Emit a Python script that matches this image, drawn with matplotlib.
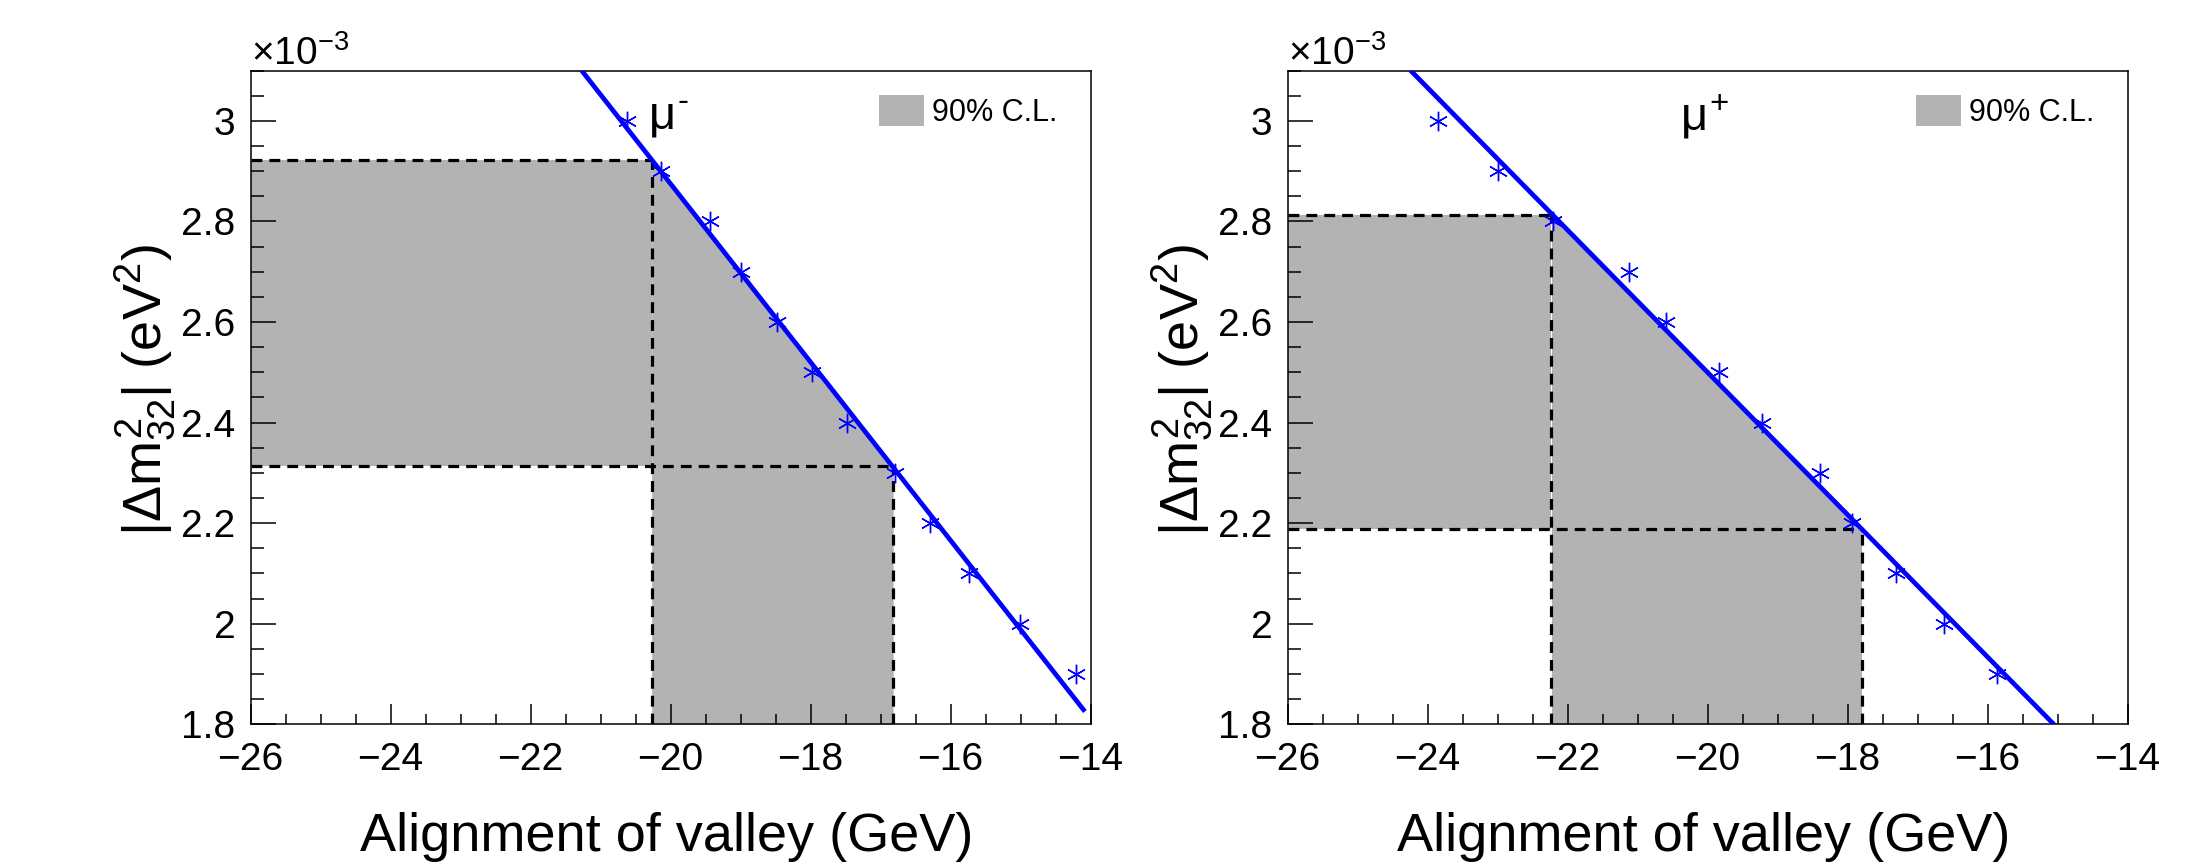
import matplotlib
matplotlib.use('Agg')
import matplotlib.pyplot as plt
import numpy as np
from matplotlib.patches import Patch
from matplotlib.ticker import MultipleLocator, FuncFormatter

plt.rcParams['font.family'] = ['Liberation Sans', 'DejaVu Sans']
plt.rcParams['mathtext.fontset'] = 'custom'
plt.rcParams['mathtext.rm'] = 'Liberation Sans'
plt.rcParams['mathtext.it'] = 'Liberation Sans'
plt.rcParams['mathtext.bf'] = 'Liberation Sans:bold'
plt.rcParams['axes.unicode_minus'] = True

# ---------------- data (|dm^2_32| in units of 1e-3 eV^2) ----------------
dm2_minus = [3.0, 2.9, 2.8, 2.7, 2.6, 2.5, 2.4, 2.3, 2.2, 2.1, 2.0, 1.9]
valley_minus = [-20.62, -20.14, -19.43, -19.00, -18.48, -17.98, -17.48,
                -16.80, -16.29, -15.73, -15.01, -14.21]
dm2_plus = [3.0, 2.9, 2.8, 2.7, 2.6, 2.5, 2.4, 2.3, 2.2, 2.1, 2.0, 1.9]
valley_plus = [-23.85, -22.99, -22.21, -21.12, -20.59, -19.84, -19.22,
               -18.40, -17.93, -17.31, -16.62, -15.86]

# linear fits: (slope, intercept)
fit_minus = (-0.1773, -0.671)
fit_plus = (-0.1415, -0.330)
fit_range_minus = (-21.5, -14.08)
fit_range_plus = (-24.5, -15.0)

# 90% C.L. intervals
cl_valley_minus = (-20.27, -16.82)
cl_dm2_minus = (2.314, 2.922)
cl_valley_plus = (-22.23, -17.80)
cl_dm2_plus = (2.189, 2.813)

panel_labels = [r'$\mu^{\text{-}}$', r'$\mu^{+}$']
legend_label = '90% C.L.'
xlabel = 'Alignment of valley (GeV)'
ylabel = r'$|\Delta m^{2}_{32}|$ (eV$^{2}$)'
xlim = (-26, -14)
ylim = (1.8, 3.1)

# ---------------- figure ----------------
fig = plt.figure(figsize=(22.12, 8.67), dpi=100)
ax_pos = [[0.1133, 0.1646, 0.3797, 0.7539],
          [0.5821, 0.1646, 0.3797, 0.7539]]

panels = [
    (valley_minus, dm2_minus, fit_minus, fit_range_minus, cl_valley_minus, cl_dm2_minus, panel_labels[0], (0.473, 0.912)),
    (valley_plus, dm2_plus, fit_plus, fit_range_plus, cl_valley_plus, cl_dm2_plus, panel_labels[1], (0.4676, 0.909)),
]

grey = '#b3b3b3'
blue = '#0000ff'

for pos, (vx, vy, fit, frange, clx, cly, plabel, lpos) in zip(ax_pos, panels):
    ax = fig.add_axes(pos)
    ax.set_xlim(*xlim)
    ax.set_ylim(*ylim)

    slope, icpt = fit
    # shaded 90% C.L. region
    ax.fill_between([xlim[0], clx[0]], cly[0], cly[1], color=grey, lw=0, zorder=1)
    xs = np.linspace(clx[0], clx[1], 200)
    ax.fill_between(xs, ylim[0], icpt + slope * xs, color=grey, lw=0, zorder=1)

    # dashed boundaries
    dkw = dict(color='black', lw=2.3, dashes=(3.4, 2.2), zorder=2)
    ax.plot([xlim[0], clx[0]], [cly[1], cly[1]], **dkw)
    ax.plot([clx[0], clx[0]], [ylim[0], cly[1]], **dkw)
    ax.plot([xlim[0], clx[1]], [cly[0], cly[0]], **dkw)
    ax.plot([clx[1], clx[1]], [ylim[0], cly[0]], **dkw)

    # fit line
    fx = np.array(frange)
    ax.plot(fx, icpt + slope * fx, color=blue, lw=3.4, zorder=3, solid_capstyle='butt')

    # data points (asterisk markers)
    ax.plot(vx, vy, linestyle='none', marker=(6, 2, 0), markersize=14,
            markeredgewidth=1.0, color=blue, zorder=4)

    # ticks
    ax.xaxis.set_major_locator(MultipleLocator(2))
    ax.xaxis.set_minor_locator(MultipleLocator(0.5))
    ax.yaxis.set_major_locator(MultipleLocator(0.2))
    ax.yaxis.set_minor_locator(MultipleLocator(0.05))
    ax.yaxis.set_major_formatter(FuncFormatter(lambda v, p: ('%g' % round(v, 3)).replace('-', '\u2212')))
    ax.tick_params(axis='both', which='both', direction='in', top=False, right=False, width=1.1)
    ax.tick_params(axis='x', which='major', length=14.4, pad=12.5, labelsize=28)
    ax.tick_params(axis='x', which='minor', length=7.2)
    ax.tick_params(axis='y', which='major', length=18, pad=11, labelsize=28)
    ax.tick_params(axis='y', which='minor', length=9)
    for sp in ax.spines.values():
        sp.set_linewidth(1.1)

    # labels
    ax.set_xlabel(xlabel, fontsize=39, va='baseline')
    ax.xaxis.set_label_coords(0.495, -0.194)
    ax.set_ylabel(ylabel, fontsize=39, va='center', ha='center')
    ax.yaxis.set_label_coords(-0.125, 0.512)

    ax.text(0.0, 1.0088, r'$\times$10$^{-3}$', transform=ax.transAxes,
            fontsize=28, ha='left', va='baseline')
    ax.text(lpos[0], lpos[1], plabel, transform=ax.transAxes,
            fontsize=34, ha='left', va='baseline')

    ax.legend(handles=[Patch(facecolor=grey, edgecolor='none', label=legend_label)],
              loc='upper left', bbox_to_anchor=(0.748, 0.963), frameon=False,
              fontsize=22, handlelength=1.47, handleheight=1.2, handletextpad=0.28,
              borderpad=0, borderaxespad=0)

fig.savefig('out.png', dpi=100)
